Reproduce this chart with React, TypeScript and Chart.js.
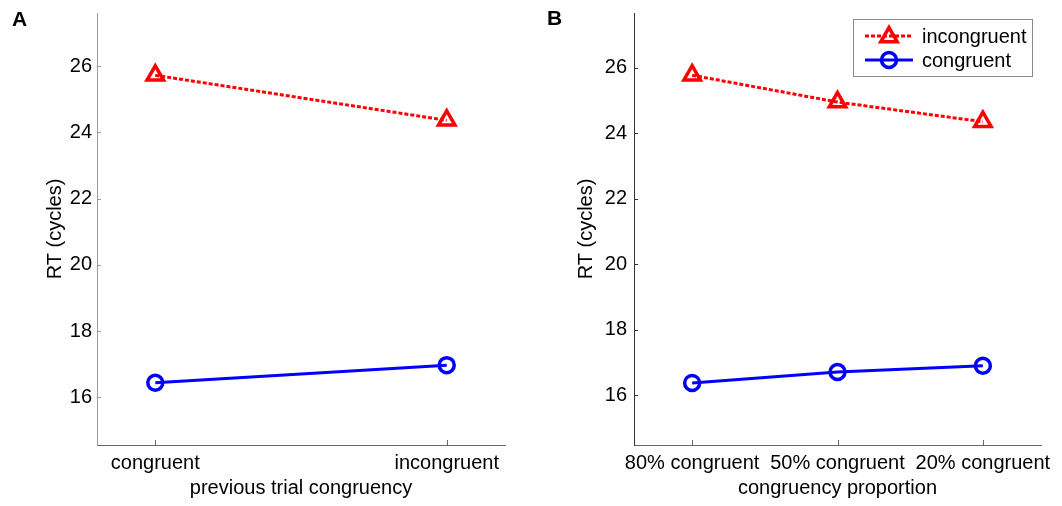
import React, { useEffect, useRef } from 'react';
import { Chart, registerables } from 'chart.js';

Chart.register(...registerables);

const FONT = '"Liberation Sans", Arial, Helvetica, sans-serif';

// ---- data ----
const SERIES_LABELS = ['incongruent', 'congruent'];
const A_CATEGORIES = ['congruent', 'incongruent'];
const A_INCONGRUENT = [25.72, 24.36];
const A_CONGRUENT = [16.44, 16.97];
const B_CATEGORIES = ['80% congruent', '50% congruent', '20% congruent'];
const B_INCONGRUENT = [25.77, 24.95, 24.35];
const B_CONGRUENT = [16.375, 16.71, 16.9];
const Y_TICKS = [16, 18, 20, 22, 24, 26];

const RED = '#ff0000';
const BLUE = '#0000ff';

type PanelProps = {
  letter: string;
  categories: string[];
  incongruent: number[];
  congruent: number[];
  xTitle: string;
  yMin: number;
  yMax: number;
  xPad: number;
  yAxisWidth: number;
  rightPad: number;
  yAxisColor: string;
  xAxisColor: string;
  letterX: number;
  letterY: number;
  legend: boolean;
  tickPad: number;
};

function drawTriangle(ctx: CanvasRenderingContext2D, x: number, y: number, r: number) {
  const T = (2 * Math.PI) / 3;
  let rad = 0;
  ctx.beginPath();
  ctx.moveTo(x + Math.sin(rad) * r, y - Math.cos(rad) * r);
  rad += T;
  ctx.lineTo(x + Math.sin(rad) * r, y - Math.cos(rad) * r);
  rad += T;
  ctx.lineTo(x + Math.sin(rad) * r, y - Math.cos(rad) * r);
  ctx.closePath();
  ctx.stroke();
}

function Panel(p: PanelProps) {
  const ref = useRef<HTMLCanvasElement | null>(null);
  useEffect(() => {
    if (!ref.current) return;
    const toPts = (arr: number[]) => arr.map((v, i) => ({ x: i, y: v }));
    const decor = {
      id: 'decor_' + p.letter,
      beforeDatasetsDraw(chart: any) {
        const { ctx, chartArea, scales } = chart;
        ctx.save();
        ctx.lineWidth = 1;
        ctx.strokeStyle = p.yAxisColor;
        scales.y.ticks.forEach((t: any) => {
          const y = Math.round(scales.y.getPixelForValue(t.value)) + 0.5;
          ctx.beginPath();
          ctx.moveTo(chartArea.left, y);
          ctx.lineTo(chartArea.left + 4, y);
          ctx.stroke();
        });
        ctx.strokeStyle = p.xAxisColor;
        scales.x.ticks.forEach((t: any) => {
          const x = Math.round(scales.x.getPixelForValue(t.value)) + 0.5;
          ctx.beginPath();
          ctx.moveTo(x, chartArea.bottom);
          ctx.lineTo(x, chartArea.bottom - 5);
          ctx.stroke();
        });
        ctx.restore();
      },
      afterDraw(chart: any) {
        const { ctx } = chart;
        ctx.save();
        ctx.fillStyle = '#000';
        ctx.font = 'bold 21px ' + FONT;
        ctx.textBaseline = 'alphabetic';
        ctx.textAlign = 'left';
        ctx.fillText(p.letter, p.letterX, p.letterY);
        if (p.legend) {
          const bx = 322.5, by = 19.5, bw = 179, bh = 57;
          ctx.fillStyle = '#fff';
          ctx.fillRect(bx, by, bw, bh);
          ctx.strokeStyle = '#8a8a8a';
          ctx.lineWidth = 1;
          ctx.strokeRect(bx, by, bw, bh);
          const rows = [
            { label: SERIES_LABELS[0], color: RED, dash: [4, 2], y: 36, tri: true },
            { label: SERIES_LABELS[1], color: BLUE, dash: [], y: 60, tri: false },
          ];
          rows.forEach((r) => {
            ctx.strokeStyle = r.color;
            ctx.lineWidth = 3;
            ctx.setLineDash(r.dash);
            ctx.beginPath();
            ctx.moveTo(334, r.y);
            ctx.lineTo(382, r.y);
            ctx.stroke();
            ctx.setLineDash([]);
            ctx.lineWidth = 3.5;
            if (r.tri) drawTriangle(ctx, 358, r.y + 1, 9.5);
            else {
              ctx.beginPath();
              ctx.arc(358, r.y, 7.5, 0, Math.PI * 2);
              ctx.stroke();
            }
            ctx.fillStyle = '#000';
            ctx.font = '20px ' + FONT;
            ctx.textBaseline = 'middle';
            ctx.fillText(r.label, 391, r.y + 1);
          });
        }
        ctx.restore();
      },
    };

    const chart = new Chart(ref.current, {
      type: 'line',
      data: {
        datasets: [
          {
            label: SERIES_LABELS[0],
            data: toPts(p.incongruent),
            borderColor: RED,
            borderWidth: 3,
            borderDash: [4, 2],
            pointStyle: 'triangle',
            pointRadius: 9.5,
            pointBorderWidth: 3.5,
            pointBorderColor: RED,
            pointBackgroundColor: 'rgba(0,0,0,0)',
            fill: false,
            tension: 0,
          },
          {
            label: SERIES_LABELS[1],
            data: toPts(p.congruent),
            borderColor: BLUE,
            borderWidth: 3,
            pointStyle: 'circle',
            pointRadius: 7.5,
            pointBorderWidth: 3.5,
            pointBorderColor: BLUE,
            pointBackgroundColor: 'rgba(0,0,0,0)',
            fill: false,
            tension: 0,
          },
        ],
      },
      options: {
        responsive: false,
        animation: false,
        events: [],
        layout: { padding: { left: 0, right: p.rightPad, top: 12, bottom: 0 } },
        plugins: { legend: { display: false }, tooltip: { enabled: false } },
        scales: {
          x: {
            type: 'linear',
            min: -p.xPad,
            max: p.categories.length - 1 + p.xPad,
            afterBuildTicks: (s: any) => {
              s.ticks = p.categories.map((_, i) => ({ value: i }));
            },
            afterFit: (s: any) => {
              s.height = 61;
              s.paddingLeft = 0;
              s.paddingRight = 0;
            },
            ticks: {
              autoSkip: false,
              maxRotation: 0,
              minRotation: 0,
              padding: 6,
              color: '#000',
              font: { family: FONT, size: 20 },
              callback: (v: any) => p.categories[Math.round(Number(v))] ?? '',
            },
            grid: { display: true, drawOnChartArea: false, drawTicks: false },
            border: { display: true, color: p.xAxisColor, width: 1 },
            title: {
              display: true,
              text: p.xTitle,
              color: '#000',
              font: { family: FONT, size: 20 },
              padding: { top: 0, bottom: 6 },
            },
          },
          y: {
            type: 'linear',
            min: p.yMin,
            max: p.yMax,
            afterBuildTicks: (s: any) => {
              s.ticks = Y_TICKS.map((v) => ({ value: v }));
            },
            afterFit: (s: any) => {
              s.width = p.yAxisWidth;
              s.paddingTop = 0;
              s.paddingBottom = 0;
            },
            ticks: {
              padding: p.tickPad,
              color: '#000',
              font: { family: FONT, size: 20 },
              callback: (v: any) => String(v),
            },
            grid: { display: true, drawOnChartArea: false, drawTicks: false },
            border: { display: true, color: p.yAxisColor, width: 1 },
            title: {
              display: true,
              text: 'RT (cycles)',
              color: '#000',
              font: { family: FONT, size: 20 },
              padding: { top: 43, bottom: 0 },
            },
          },
        },
      },
      plugins: [decor],
    } as any);
    return () => chart.destroy();
  }, []);
  return <canvas ref={ref} width={531} height={506} style={{ display: 'block', width: 531, height: 506 }} />;
}

export default function App() {
  return (
    <div
      style={{
        position: 'fixed',
        left: 0,
        top: 0,
        width: 1062,
        height: 506,
        background: '#fff',
        display: 'flex',
      }}
    >
      <Panel
        letter="A"
        categories={A_CATEGORIES}
        incongruent={A_INCONGRUENT}
        congruent={A_CONGRUENT}
        xTitle="previous trial congruency"
        yMin={14.56}
        yMax={27.6}
        xPad={0.2}
        yAxisWidth={97}
        rightPad={26}
        yAxisColor="#9a9a9a"
        xAxisColor="#666666"
        letterX={12}
        letterY={26}
        legend={false}
        tickPad={5}
      />
      <Panel
        letter="B"
        categories={B_CATEGORIES}
        incongruent={B_INCONGRUENT}
        congruent={B_CONGRUENT}
        xTitle="congruency proportion"
        yMin={14.48}
        yMax={27.67}
        xPad={0.4}
        yAxisWidth={103}
        rightPad={21}
        yAxisColor="#333333"
        xAxisColor="#666666"
        letterX={16}
        letterY={25}
        legend={true}
        tickPad={7}
      />
    </div>
  );
}
